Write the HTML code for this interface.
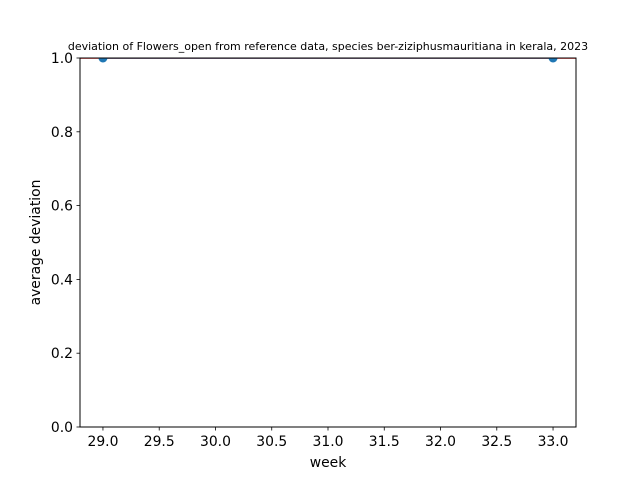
<!DOCTYPE html>
<html><head><meta charset="utf-8"><style>
body{margin:0;background:#fff;}
svg text{font-family:"DejaVu Sans","Liberation Sans",sans-serif;fill:#000;}
</style></head><body>
<svg id="chart" width="640" height="480" xmlns="http://www.w3.org/2000/svg">
<defs><clipPath id="plotclip"><rect x="80" y="58" width="496" height="369"/></clipPath></defs>
<rect width="640" height="480" fill="#fff"/>
<text x="328" y="50" font-size="11" text-anchor="middle">deviation of Flowers_open from reference data, species ber-ziziphusmauritiana in kerala, 2023</text>
<g id="axes"></g>
<g id="marks" clip-path="url(#plotclip)"></g>
<rect x="80" y="58" width="496" height="369" fill="none" stroke="#000" stroke-width="1"/>
<text x="328" y="467" font-size="13.9" text-anchor="middle">week</text>
<text x="0" y="0" font-size="13.9" text-anchor="middle" transform="translate(40,242.5) rotate(-90)">average deviation</text>
</svg>
<script>
const weeks = [29, 33];
const deviations = [1.0, 1.0];
const xTicks = [29.0, 29.5, 30.0, 30.5, 31.0, 31.5, 32.0, 32.5, 33.0];
const yTicks = [0.0, 0.2, 0.4, 0.6, 0.8, 1.0];

const L=80,R=576,T=58,B=427;
const xMin=28.796,xMax=33.204,yMin=0,yMax=1;
const xs=v=>L+(v-xMin)/(xMax-xMin)*(R-L);
const ys=v=>B-(v-yMin)/(yMax-yMin)*(B-T);
const NS="http://www.w3.org/2000/svg";
const axes=document.getElementById('axes'), marks=document.getElementById('marks');
function mk(tag,attrs,parent){const e=document.createElementNS(NS,tag);for(const k in attrs)e.setAttribute(k,attrs[k]);parent.appendChild(e);return e;}
xTicks.forEach(t=>{
  const x=xs(t);
  const l=mk('line',{x1:x,x2:x,y1:B,y2:B+3.5,stroke:'#000','stroke-width':0.8},axes);
  
  
  const tx=mk('text',{x:x,y:B+19,'font-size':13.9,'text-anchor':'middle'},axes);
  tx.textContent=t.toFixed(1);
  
  
});
yTicks.forEach(t=>{
  const y=ys(t);
  const l=mk('line',{x1:L-3.5,x2:L,y1:y,y2:y,stroke:'#000','stroke-width':0.8},axes);
  
  
  const tx=mk('text',{x:L-7,y:y+5,'font-size':13.9,'text-anchor':'end'},axes);
  tx.textContent=t.toFixed(1);
  
  
});
const ref=mk('line',{x1:L,x2:R,y1:ys(1),y2:ys(1),stroke:'#ff0000','stroke-width':1.5},marks);


const pts=weeks.map((w,i)=>xs(w)+','+ys(deviations[i])).join(' ');
const pl=mk('polyline',{points:pts,fill:'none',stroke:'#1f77b4','stroke-width':1.5},marks);


weeks.forEach((w,i)=>{
  const c=mk('circle',{cx:xs(w),cy:ys(deviations[i]),r:4.5,fill:'#1f77b4'},marks);
  
  
});
</script>
</body></html>
